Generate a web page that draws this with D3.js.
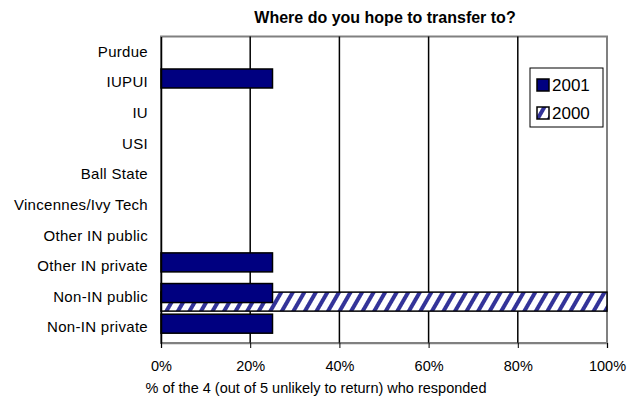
<!DOCTYPE html>
<html>
<head>
<meta charset="utf-8">
<script src="https://cdn.jsdelivr.net/npm/d3@7"></script>
<style>
  body { margin: 0; background: #fff; }
  text { font-family: "Liberation Sans", Arial, sans-serif; }
</style>
</head>
<body>
<div id="chart"></div>
<script>
// data
const CATEGORIES = ["Purdue", "IUPUI", "IU", "USI", "Ball State", "Vincennes/Ivy Tech",
                    "Other IN public", "Other IN private", "Non-IN public", "Non-IN private"];
const VALUES_2001 = [0, 25, 0, 0, 0, 0, 0, 25, 25, 25];
const VALUES_2000 = [0, 0, 0, 0, 0, 0, 0, 0, 100, 0];
const X_TICKS = [0, 20, 40, 60, 80, 100];

const FRAME_WIDTH = 635;
const FRAME_HEIGHT = 400;
const MARGINS = {left: 161, right: 28, top: 36.5, bottom: 57};

const VIS_WIDTH = FRAME_WIDTH - MARGINS.left - MARGINS.right;
const VIS_HEIGHT = FRAME_HEIGHT - MARGINS.top - MARGINS.bottom;

const FRAME = d3.select("#chart")
                  .append("svg")
                    .attr("width", FRAME_WIDTH)
                    .attr("height", FRAME_HEIGHT);

// striped fill for 2000
const defs = FRAME.append("defs");
const pat = defs.append("pattern")
    .attr("id", "stripes")
    .attr("patternUnits", "userSpaceOnUse")
    .attr("width", 10)
    .attr("height", 10)
    .attr("patternTransform", "rotate(30)");
pat.append("rect").attr("width", 10).attr("height", 10).attr("fill", "#fff");
pat.append("rect").attr("width", 4).attr("height", 10).attr("fill", "#333399");

const X_SCALE = d3.scaleLinear()
                    .domain([0, 100])
                    .range([0, VIS_WIDTH]);
const Y_SCALE = d3.scaleBand()
                    .domain(CATEGORIES)
                    .range([0, VIS_HEIGHT]);

const G = FRAME.append("g")
    .attr("transform", "translate(" + MARGINS.left + "," + MARGINS.top + ")");

// plot border (grey top/right)
G.append("rect")
    .attr("x", 0).attr("y", 0)
    .attr("width", VIS_WIDTH).attr("height", VIS_HEIGHT)
    .attr("fill", "none")
    .attr("stroke", "#808080")
    .attr("stroke-width", 2);

// gridlines
G.selectAll(".grid")
    .data(X_TICKS.slice(1, -1))
    .enter()
    .append("line")
      .attr("x1", (d) => X_SCALE(d))
      .attr("x2", (d) => X_SCALE(d))
      .attr("y1", 0)
      .attr("y2", VIS_HEIGHT)
      .attr("stroke", "#000")
      .attr("stroke-width", 1.5);

const STEP = Y_SCALE.step();

// 2000 bars (behind)
G.selectAll(".b2000")
    .data(CATEGORIES.map((c, i) => ({c: c, v: VALUES_2000[i]})).filter((d) => d.v > 0))
    .enter()
    .append("rect")
      .attr("x", X_SCALE(0))
      .attr("y", (d) => Y_SCALE(d.c) + STEP * 0.34)
      .attr("width", (d) => X_SCALE(d.v))
      .attr("height", STEP * 0.62)
      .attr("fill", "url(#stripes)")
      .attr("stroke", "#000")
      .attr("stroke-width", 1.5);

// 2001 bars
G.selectAll(".b2001")
    .data(CATEGORIES.map((c, i) => ({c: c, v: VALUES_2001[i]})).filter((d) => d.v > 0))
    .enter()
    .append("rect")
      .attr("x", X_SCALE(0))
      .attr("y", (d) => Y_SCALE(d.c) + STEP * 0.06)
      .attr("width", (d) => X_SCALE(d.v))
      .attr("height", STEP * 0.62)
      .attr("fill", "#000080")
      .attr("stroke", "#000")
      .attr("stroke-width", 1.5);

// x axis
const xAxis = G.append("g")
    .attr("transform", "translate(0," + VIS_HEIGHT + ")")
    .call(d3.axisBottom(X_SCALE).tickValues(X_TICKS).tickFormat((d) => d + "%")
            .tickSize(5).tickPadding(13));
xAxis.select(".domain").attr("stroke", "#808080").attr("stroke-width", 1.5);
xAxis.selectAll(".tick line").attr("stroke", "#000");
xAxis.selectAll("text").attr("font-size", "14.5px").attr("fill", "#000")
     .style("font-family", "'Liberation Sans', Arial, sans-serif");

// y axis
const yAxis = G.append("g")
    .call(d3.axisLeft(Y_SCALE).tickSize(0).tickPadding(13));
yAxis.select(".domain").attr("stroke", "#000").attr("stroke-width", 1.5);
yAxis.selectAll("text").attr("font-size", "15px").attr("fill", "#000")
     .style("letter-spacing", "0.3px")
     .style("font-family", "'Liberation Sans', Arial, sans-serif");

// title
FRAME.append("text")
    .attr("x", 385)
    .attr("y", 23)
    .attr("text-anchor", "middle")
    .style("font-size", "16px")
    .style("font-weight", "700")
    .text("Where do you hope to transfer to?");

// x axis title
FRAME.append("text")
    .attr("x", 316)
    .attr("y", 393)
    .attr("text-anchor", "middle")
    .style("font-size", "14.5px")
    .text("% of the 4 (out of 5 unlikely to return) who responded");

// legend
const LEG = FRAME.append("g").attr("transform", "translate(530,68)");
LEG.append("rect")
    .attr("width", 73).attr("height", 59)
    .attr("fill", "#fff").attr("stroke", "#000").attr("stroke-width", 1);
const legItems = [{name: "2001", fill: "#000080"}, {name: "2000", fill: "url(#stripes)"}];
legItems.forEach((d, i) => {
  LEG.append("rect")
      .attr("x", 7).attr("y", 11 + i * 28)
      .attr("width", 12).attr("height", 12)
      .attr("fill", d.fill).attr("stroke", "#000").attr("stroke-width", 1.5);
  LEG.append("text")
      .attr("x", 22).attr("y", 23 + i * 28)
      .style("font-size", "17px")
      .text(d.name);
});
</script>
</body>
</html>
